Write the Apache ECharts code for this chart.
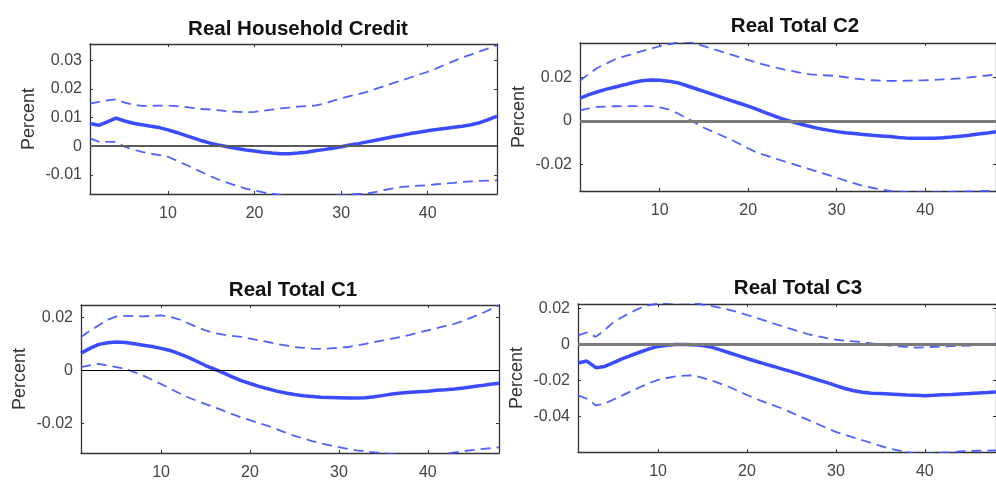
<!DOCTYPE html>
<html>
<head>
<meta charset="utf-8">
<script src="https://cdn.jsdelivr.net/npm/echarts@6/dist/echarts.min.js"></script>
<style>
html, body { margin: 0; padding: 0; background: #fff; }
#main { width: 996px; height: 481px; }
</style>
</head>
<body>
<div id="main"></div>
<script>
// horizon (months) and tick labels
var horizon = [1,2,3,4,5,6,7,8,9,10,11,12,13,14,15,16,17,18,19,20,21,22,23,24,
               25,26,27,28,29,30,31,32,33,34,35,36,37,38,39,40,41,42,43,44,45,46,47,48];
var xTicks = [10, 20, 30, 40];

// Real Household Credit
var hhMedian = [0.0079,0.0073,0.0085,0.0098,0.0088,0.0080,0.0075,0.0070,0.0065,0.0057,0.0048,0.0038,
                0.0028,0.0018,0.0010,0.0003,-0.0003,-0.0008,-0.0013,-0.0017,-0.0021,-0.0024,-0.0026,-0.0026,
                -0.0024,-0.0021,-0.0016,-0.0012,-0.0007,-0.0002,0.0004,0.0009,0.0015,0.0021,0.0027,0.0033,
                0.0038,0.0044,0.0049,0.0054,0.0058,0.0062,0.0066,0.0070,0.0075,0.0082,0.0093,0.0105];
var hhUpper = [0.0149,0.0155,0.0160,0.0164,0.0152,0.0145,0.0141,0.0141,0.0142,0.0142,0.0140,0.0137,
               0.0133,0.0130,0.0128,0.0125,0.0122,0.0120,0.0119,0.0120,0.0124,0.0128,0.0132,0.0135,
               0.0138,0.0140,0.0142,0.0148,0.0158,0.0167,0.0175,0.0182,0.0190,0.0200,0.0210,0.0220,
               0.0230,0.0240,0.0250,0.0260,0.0272,0.0285,0.0297,0.0310,0.0320,0.0331,0.0342,0.0353];
var hhLower = [0.0027,0.0016,0.0015,0.0015,-0.0002,-0.0012,-0.0020,-0.0026,-0.0031,-0.0037,-0.0050,-0.0064,
               -0.0078,-0.0092,-0.0106,-0.0119,-0.0129,-0.0139,-0.0148,-0.0155,-0.0161,-0.0166,-0.0170,-0.0174,
               -0.0177,-0.0178,-0.0177,-0.0175,-0.0173,-0.0171,-0.0169,-0.0167,-0.0165,-0.0160,-0.0153,-0.0147,
               -0.0142,-0.0140,-0.0138,-0.0136,-0.0133,-0.0130,-0.0128,-0.0125,-0.0123,-0.0121,-0.0120,-0.0119];

// Real Total C2
var c2Median = [0.0105,0.0122,0.0135,0.0147,0.0157,0.0167,0.0178,0.0186,0.0189,0.0188,0.0184,0.0177,
                0.0164,0.0150,0.0137,0.0123,0.0109,0.0095,0.0082,0.0069,0.0054,0.0038,0.0023,0.0008,
                -0.0004,-0.0015,-0.0025,-0.0035,-0.0042,-0.0049,-0.0054,-0.0058,-0.0062,-0.0066,-0.0069,-0.0072,
                -0.0076,-0.0079,-0.0080,-0.0080,-0.0079,-0.0077,-0.0074,-0.0070,-0.0066,-0.0060,-0.0055,-0.0049];
var c2Upper = [0.0185,0.0218,0.0246,0.0266,0.0285,0.0298,0.0311,0.0323,0.0334,0.0345,0.0354,0.0362,
               0.0366,0.0358,0.0346,0.0333,0.0320,0.0308,0.0295,0.0282,0.0269,0.0258,0.0248,0.0238,
               0.0230,0.0222,0.0215,0.0212,0.0210,0.0208,0.0202,0.0196,0.0192,0.0188,0.0186,0.0185,
               0.0185,0.0186,0.0187,0.0188,0.0190,0.0192,0.0194,0.0197,0.0201,0.0206,0.0210,0.0215];
var c2Lower = [0.0049,0.0058,0.0065,0.0067,0.0068,0.0069,0.0069,0.0069,0.0069,0.0063,0.0054,0.0036,
               0.0015,-0.0008,-0.0031,-0.0049,-0.0067,-0.0085,-0.0105,-0.0126,-0.0146,-0.0159,-0.0172,-0.0185,
               -0.0198,-0.0211,-0.0223,-0.0236,-0.0249,-0.0262,-0.0275,-0.0288,-0.0300,-0.0308,-0.0316,-0.0323,
               -0.0326,-0.0328,-0.0330,-0.0330,-0.0329,-0.0328,-0.0327,-0.0326,-0.0325,-0.0324,-0.0323,-0.0323];

// Real Total C1
var c1Median = [0.0066,0.0084,0.0099,0.0105,0.0108,0.0106,0.0101,0.0096,0.0091,0.0084,0.0076,0.0064,
                0.0051,0.0035,0.0019,0.0005,-0.0009,-0.0024,-0.0038,-0.0049,-0.0060,-0.0069,-0.0078,-0.0085,
                -0.0091,-0.0095,-0.0098,-0.0101,-0.0102,-0.0103,-0.0104,-0.0104,-0.0103,-0.0099,-0.0094,-0.0089,
                -0.0085,-0.0082,-0.0080,-0.0078,-0.0075,-0.0073,-0.0070,-0.0066,-0.0061,-0.0057,-0.0052,-0.0048];
var c1Upper = [0.0127,0.0150,0.0171,0.0192,0.0205,0.0207,0.0206,0.0205,0.0207,0.0209,0.0203,0.0194,
               0.0180,0.0165,0.0152,0.0142,0.0136,0.0131,0.0127,0.0121,0.0114,0.0108,0.0101,0.0095,
               0.0089,0.0086,0.0083,0.0082,0.0084,0.0086,0.0089,0.0095,0.0101,0.0108,0.0114,0.0121,
               0.0127,0.0135,0.0144,0.0152,0.0160,0.0169,0.0177,0.0188,0.0202,0.0215,0.0231,0.0247];
var c1Lower = [0.0013,0.0020,0.0025,0.0019,0.0013,0.0006,-0.0006,-0.0019,-0.0035,-0.0051,-0.0068,-0.0085,
               -0.0101,-0.0114,-0.0127,-0.0139,-0.0152,-0.0165,-0.0177,-0.0188,-0.0199,-0.0209,-0.0222,-0.0235,
               -0.0247,-0.0257,-0.0267,-0.0276,-0.0283,-0.0290,-0.0297,-0.0302,-0.0306,-0.0310,-0.0313,-0.0316,
               -0.0319,-0.0323,-0.0326,-0.0327,-0.0322,-0.0316,-0.0310,-0.0305,-0.0301,-0.0297,-0.0294,-0.0291];

// Real Total C3
var c3Median = [-0.0103,-0.0092,-0.0129,-0.0122,-0.0101,-0.0079,-0.0060,-0.0042,-0.0025,-0.0011,-0.0004,0.0000,
                0.0000,-0.0002,-0.0006,-0.0015,-0.0030,-0.0046,-0.0062,-0.0078,-0.0093,-0.0108,-0.0122,-0.0137,
                -0.0151,-0.0166,-0.0181,-0.0197,-0.0212,-0.0228,-0.0244,-0.0257,-0.0265,-0.0270,-0.0272,-0.0274,
                -0.0277,-0.0280,-0.0282,-0.0284,-0.0282,-0.0279,-0.0277,-0.0274,-0.0272,-0.0269,-0.0267,-0.0264];
var c3Upper = [0.0050,0.0066,0.0042,0.0080,0.0124,0.0152,0.0179,0.0202,0.0218,0.0226,0.0229,0.0232,
               0.0234,0.0230,0.0221,0.0213,0.0203,0.0192,0.0178,0.0163,0.0148,0.0132,0.0116,0.0100,
               0.0085,0.0070,0.0055,0.0045,0.0035,0.0026,0.0021,0.0017,0.0013,0.0006,0.0000,-0.0006,
               -0.0010,-0.0014,-0.0018,-0.0016,-0.0013,-0.0011,-0.0009,-0.0008,-0.0006,-0.0003,0.0000,0.0004];
var c3Lower = [-0.0282,-0.0301,-0.0338,-0.0328,-0.0305,-0.0282,-0.0259,-0.0236,-0.0215,-0.0196,-0.0186,-0.0177,
               -0.0173,-0.0172,-0.0185,-0.0199,-0.0217,-0.0236,-0.0258,-0.0280,-0.0301,-0.0320,-0.0338,-0.0356,
               -0.0378,-0.0400,-0.0421,-0.0442,-0.0464,-0.0485,-0.0500,-0.0516,-0.0531,-0.0547,-0.0562,-0.0578,
               -0.0587,-0.0596,-0.0605,-0.0605,-0.0603,-0.0600,-0.0597,-0.0593,-0.0590,-0.0589,-0.0588,-0.0587];

var panels = [
    { title: 'Real Household Credit', median: hhMedian, upper: hhUpper, lower: hhLower,
      yMin: -0.0167, yMax: 0.0357, yTicks: [-0.01, 0, 0.01, 0.02, 0.03],
      grid: { left: 90, top: 44, width: 407, height: 150 }, titleX: 293, titleY: 14,
      zero: { color: '#5a5a5a', width: 2 } },
    { title: 'Real Total C2', median: c2Median, upper: c2Upper, lower: c2Lower,
      yMin: -0.0323, yMax: 0.036, yTicks: [-0.02, 0, 0.02],
      grid: { left: 580, top: 43, width: 418, height: 148 }, titleX: 790, titleY: 11,
      zero: { color: '#7a7a7a', width: 3 } },
    { title: 'Real Total C1', median: c1Median, upper: c1Upper, lower: c1Lower,
      yMin: -0.0312, yMax: 0.0248, yTicks: [-0.02, 0, 0.02],
      grid: { left: 81, top: 305, width: 418, height: 148 }, titleX: 288, titleY: 275,
      zero: { color: '#000', width: 1.2 } },
    { title: 'Real Total C3', median: c3Median, upper: c3Upper, lower: c3Lower,
      yMin: -0.0596, yMax: 0.0224, yTicks: [-0.04, -0.02, 0, 0.02],
      grid: { left: 578, top: 304, width: 428, height: 148 }, titleX: 793, titleY: 273,
      zero: { color: '#7a7a7a', width: 3 } }
];

var FONT = 'Liberation Sans';
var AXIS_COLOR = '#333';
var MEDIAN_COLOR = '#3a4cff';
var BAND_COLOR = 'rgba(60,80,255,0.9)';

function pairs(values) {
    return horizon.map(function (h, i) { return [h, values[i]]; });
}

function yLabel(v) {
    if (Math.abs(v) < 1e-12) return '0';
    return String(+v.toFixed(2));
}

var titles = [], grids = [], xAxes = [], yAxes = [], series = [];

panels.forEach(function (p, i) {
    titles.push({
        text: p.title, left: p.titleX, top: p.titleY, textAlign: 'center',
        textStyle: { fontFamily: FONT, fontSize: 20.5, fontWeight: 'bold', color: '#111' }
    });
    grids.push(p.grid);

    // bottom axis with labels, top axis mirrored ticks only
    [false, true].forEach(function (isTop) {
        xAxes.push({
            type: 'value', gridIndex: i, min: 1, max: 48,
            position: isTop ? 'top' : 'bottom',
            splitLine: { show: false },
            axisLine: { show: true, onZero: false, lineStyle: { color: AXIS_COLOR, width: 1.3 } },
            axisTick: { show: true, inside: true, length: 3, customValues: xTicks,
                        lineStyle: { color: AXIS_COLOR } },
            axisLabel: { show: !isTop, customValues: xTicks, margin: 12,
                         fontFamily: FONT, fontSize: 16, color: '#444' }
        });
    });

    [false, true].forEach(function (isRight) {
        yAxes.push({
            type: 'value', gridIndex: i, min: p.yMin, max: p.yMax,
            position: isRight ? 'right' : 'left',
            name: isRight ? '' : 'Percent', nameLocation: 'middle', nameGap: 52,
            nameTextStyle: { fontFamily: FONT, fontSize: 18, color: '#333' },
            splitLine: { show: false },
            axisLine: { show: true, onZero: false, lineStyle: { color: AXIS_COLOR, width: 1.3 } },
            axisTick: { show: true, inside: true, length: 3, customValues: p.yTicks,
                        lineStyle: { color: AXIS_COLOR } },
            axisLabel: { show: !isRight, customValues: p.yTicks, margin: 8,
                         formatter: yLabel, fontFamily: FONT, fontSize: 16, color: '#444' }
        });
    });

    var xi = i * 2, yi = i * 2;
    series.push({
        type: 'line', xAxisIndex: xi, yAxisIndex: yi, data: pairs(p.lower),
        showSymbol: false, silent: true,
        lineStyle: { color: BAND_COLOR, width: 1.8, type: [10, 6] },
        markLine: {
            silent: true, symbol: 'none', label: { show: false },
            lineStyle: { color: p.zero.color, width: p.zero.width, type: 'solid' },
            data: [{ yAxis: 0 }]
        }
    });
    series.push({
        type: 'line', xAxisIndex: xi, yAxisIndex: yi, data: pairs(p.upper),
        showSymbol: false, silent: true,
        lineStyle: { color: BAND_COLOR, width: 1.8, type: [10, 6] }
    });
    series.push({
        type: 'line', xAxisIndex: xi, yAxisIndex: yi, data: pairs(p.median),
        showSymbol: false, silent: true,
        lineStyle: { color: MEDIAN_COLOR, width: 3.5 }
    });
});

var myChart = echarts.init(document.getElementById('main'));
myChart.setOption({
    animation: false,
    backgroundColor: '#fff',
    title: titles,
    grid: grids,
    xAxis: xAxes,
    yAxis: yAxes,
    series: series
});
</script>
</body>
</html>
